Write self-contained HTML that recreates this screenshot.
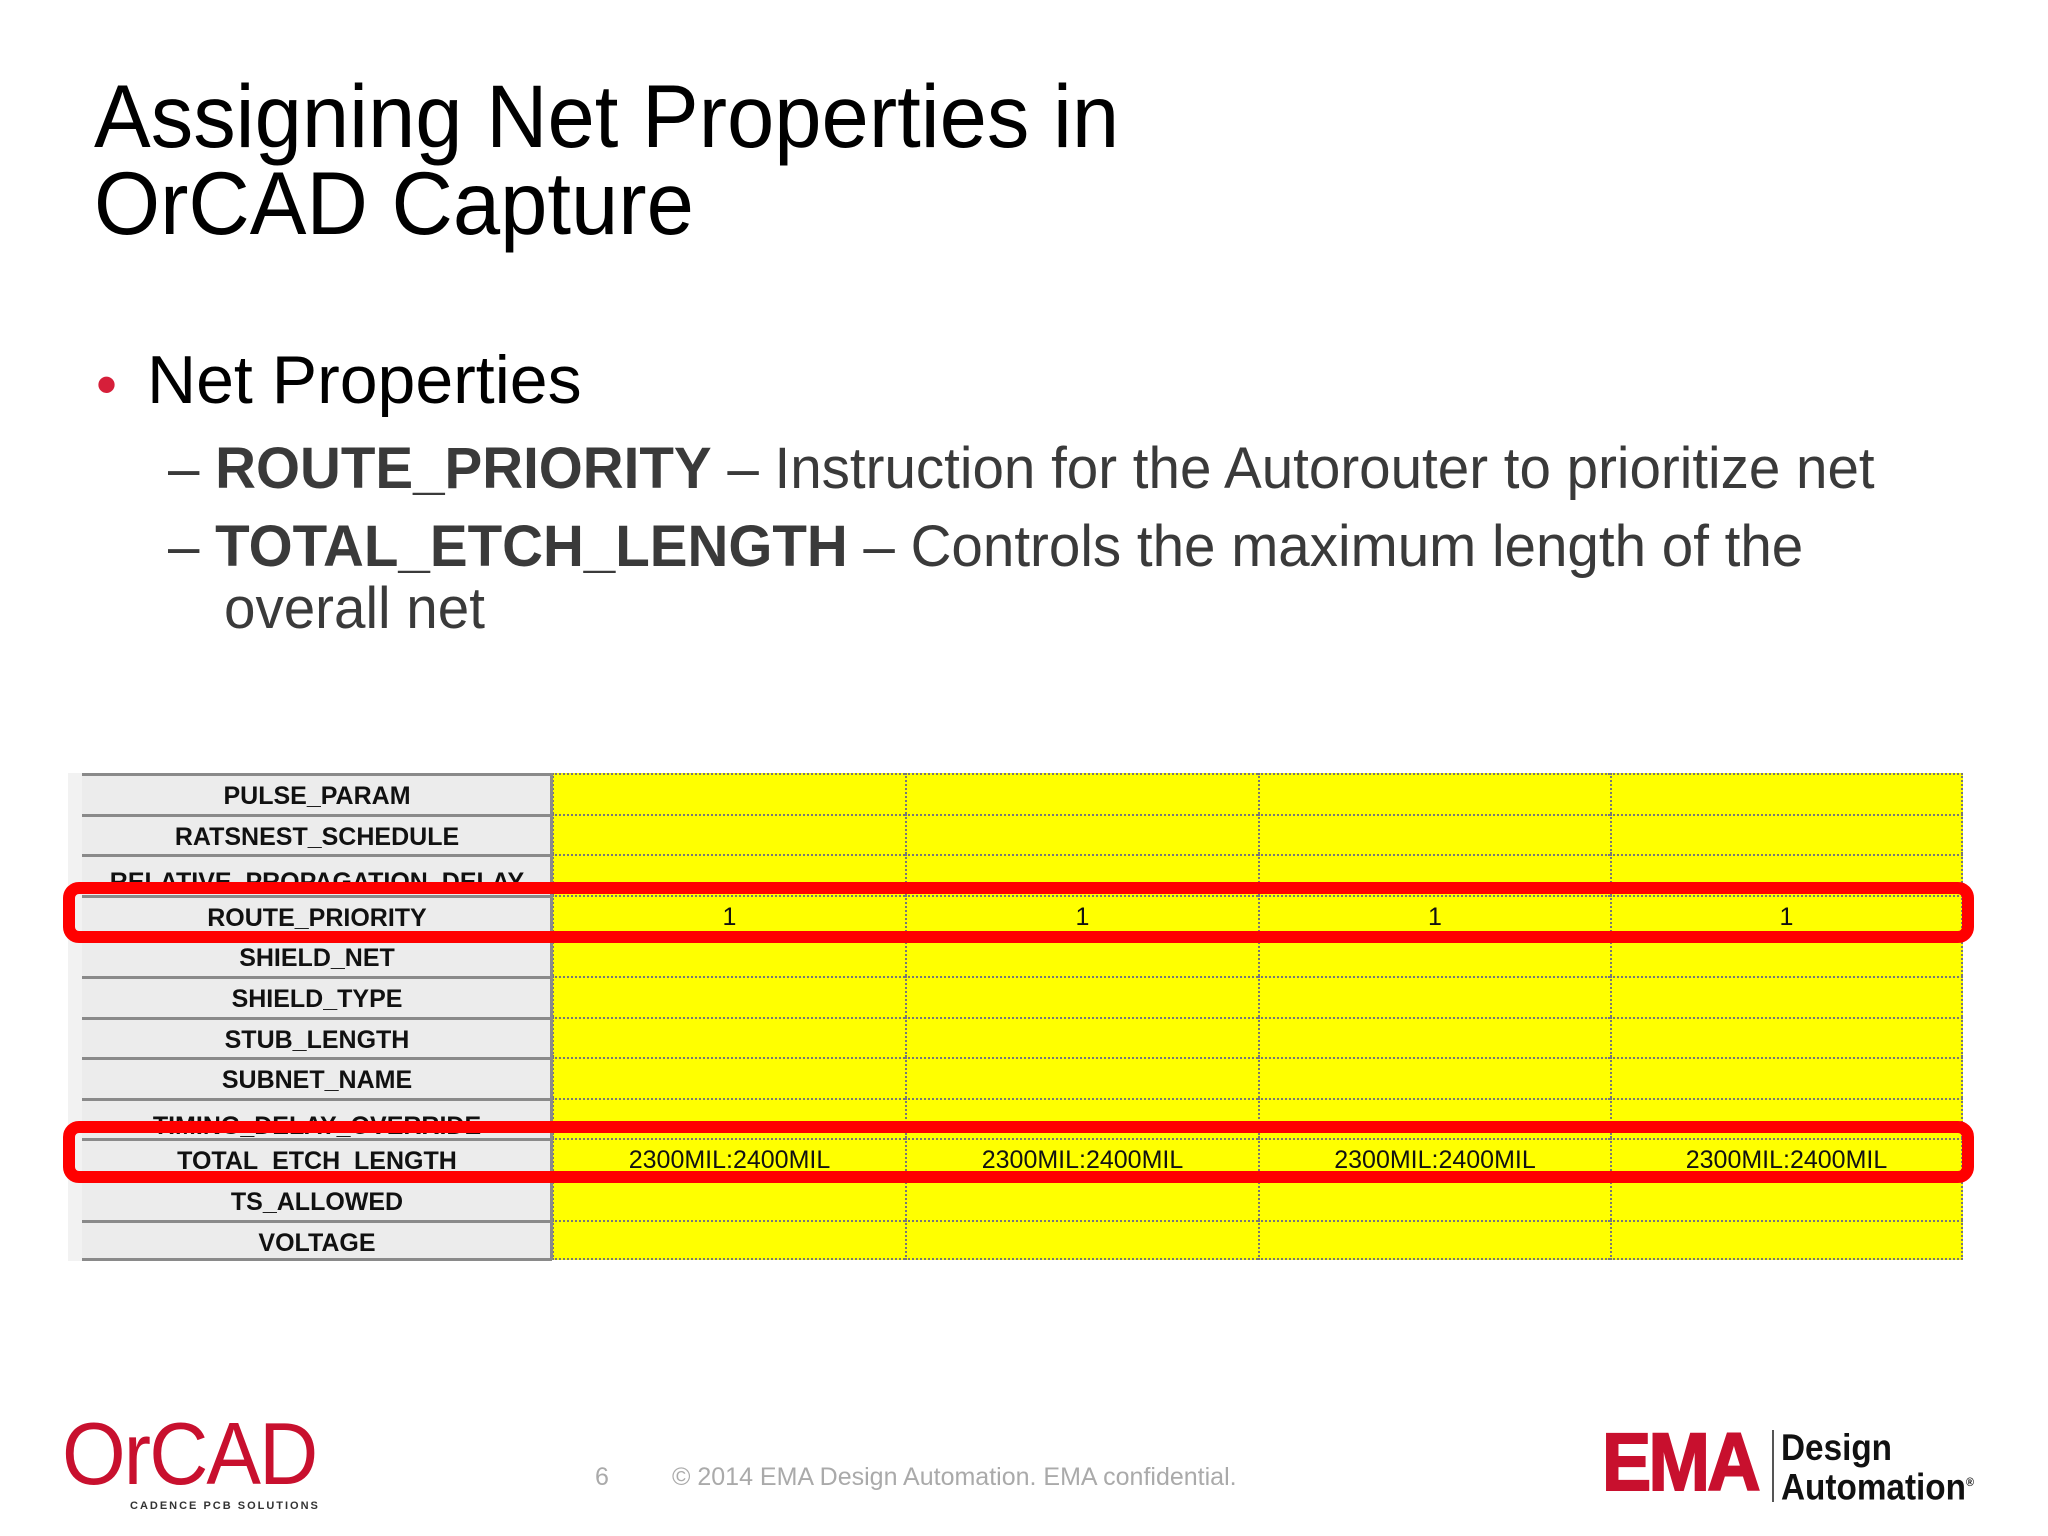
<!DOCTYPE html>
<html><head><meta charset="utf-8"><style>
html,body{margin:0;padding:0}
body{width:2048px;height:1536px;position:relative;background:#fff;overflow:hidden;font-family:"Liberation Sans",sans-serif}
.abs{position:absolute;white-space:nowrap}
.title{left:94px;font-size:89px;color:#000;line-height:1;transform:scaleX(0.955);transform-origin:left}
.sub{font-size:58px;color:#3a3a3a;line-height:1;transform:scaleX(0.975);transform-origin:left}
.cell-l{position:absolute;left:82px;width:470px;background:#ececec;border-top:3px solid #8a8a8a;box-sizing:border-box;overflow:hidden;text-align:center;font-weight:bold;font-size:25px;color:#111;font-family:"Liberation Sans",sans-serif}
.cell-y{position:absolute;background:#ffff00;border-top:2px dotted #777;border-left:2px dotted #777;box-sizing:border-box;text-align:center;font-size:25px;color:#111}
.redbox{position:absolute;border:12px solid #ff0000;border-radius:16px;box-sizing:border-box}
</style></head><body>
<div class="abs title" style="top:72px">Assigning Net Properties in</div>
<div class="abs title" style="top:159px">OrCAD Capture</div>

<div class="abs" style="left:96px;top:350px;font-size:60px;color:#d61f3a">•</div>
<div class="abs" style="left:147px;top:346px;font-size:68px;color:#000;line-height:1">Net Properties</div>

<div class="abs sub" style="left:168px;top:440px">– <b>ROUTE_PRIORITY</b> – Instruction for the Autorouter to prioritize net</div>
<div class="abs sub" style="left:168px;top:518px">– <b>TOTAL_ETCH_LENGTH</b> – Controls the maximum length of the</div>
<div class="abs sub" style="left:224px;top:580px">overall net</div>

<div class="abs" style="left:68px;top:773px;width:484px;height:488px;background:#f2f2f2"></div>
<div id="table"></div>

<div class="redbox" style="left:63px;top:882px;width:1911px;height:61px"></div>
<div class="redbox" style="left:63px;top:1121px;width:1911px;height:62px"></div>

<div class="abs" style="left:62px;top:1410px;font-size:88px;color:#c8102e;letter-spacing:-2px;line-height:1;transform:scaleX(0.93);transform-origin:left">OrCAD</div>
<div class="abs" style="left:130px;top:1500px;font-size:11px;color:#333;font-weight:bold;letter-spacing:2px">CADENCE PCB SOLUTIONS</div>
<div class="abs" style="left:595px;top:1463px;font-size:25px;color:#aaa">6</div>
<div class="abs" style="left:672px;top:1463px;font-size:25px;color:#aaa">© 2014 EMA Design Automation. EMA confidential.</div>
<div class="abs" style="left:1602px;top:1422px;font-size:82px;color:#c8102e;font-weight:bold;letter-spacing:-3px;line-height:1;transform:scaleX(0.9);transform-origin:left;-webkit-text-stroke:2px #c8102e">EMA</div>
<div class="abs" style="left:1772px;top:1430px;width:2px;height:72px;background:#555"></div>
<div class="abs" style="left:1781px;top:1430px;font-size:37px;font-weight:bold;color:#111;line-height:35px;transform:scaleX(0.9);transform-origin:left">Design<br>Automation<sup style="font-size:12px">®</sup></div>

<script>
const propNames = ["PULSE_PARAM","RATSNEST_SCHEDULE","RELATIVE_PROPAGATION_DELAY","ROUTE_PRIORITY","SHIELD_NET","SHIELD_TYPE","STUB_LENGTH","SUBNET_NAME","TIMING_DELAY_OVERRIDE","TOTAL_ETCH_LENGTH","TS_ALLOWED","VOLTAGE"];
const colValues = [["","","","1","","","","","","2300MIL:2400MIL","",""],["","","","1","","","","","","2300MIL:2400MIL","",""],["","","","1","","","","","","2300MIL:2400MIL","",""],["","","","1","","","","","","2300MIL:2400MIL","",""]];
const clipped = ["RELATIVE_PROPAGATION_DELAY","TIMING_DELAY_OVERRIDE"];
const t = document.getElementById('table');
const top0 = 773, rowH = 40.6, colX = [552, 905, 1258, 1610, 1963];
propNames.forEach((n, i) => {
  const y = top0 + i * rowH;
  const l = document.createElement('div');
  l.className = 'cell-l';
  
  
  l.style.top = y + 'px';
  l.style.height = rowH + 'px';
  l.style.lineHeight = (clipped.includes(n) ? rowH + 10 : rowH) + 'px';
  l.textContent = n;
  t.appendChild(l);
  for (let c = 0; c < 4; c++) {
    const d = document.createElement('div');
    d.className = 'cell-y';
    
    
    d.style.left = colX[c] + 'px';
    d.style.width = (colX[c + 1] - colX[c]) + 'px';
    d.style.top = y + 'px';
    d.style.height = rowH + 'px';
    d.style.lineHeight = rowH + 'px';
    if (c === 3) d.style.borderRight = '2px dotted #777';
    if (i === propNames.length - 1) d.style.borderBottom = '2px dotted #777';
    d.textContent = colValues[c][i];
    t.appendChild(d);
  }
});
const b = document.createElement('div');


b.style.cssText = 'position:absolute;left:82px;width:470px;height:3px;background:#8a8a8a;top:' + (top0 + propNames.length * rowH - 2) + 'px';
t.appendChild(b);
const v = document.createElement('div');


v.style.cssText = 'position:absolute;left:550px;width:3px;background:#8a8a8a;top:' + top0 + 'px;height:' + (propNames.length * rowH) + 'px';
t.appendChild(v);
</script>
</body></html>
